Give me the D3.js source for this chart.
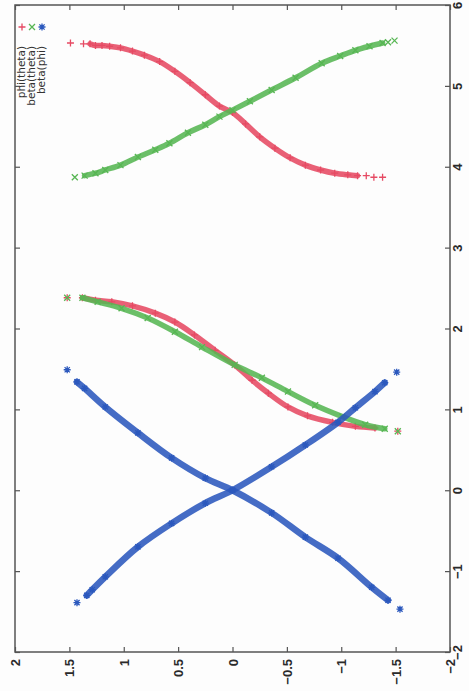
<!DOCTYPE html>
<html><head><meta charset="utf-8">
<script src="https://cdn.jsdelivr.net/npm/d3@7"></script>
<style>body{margin:0;background:#fdfdfd}</style>
</head><body><svg id="c" width="469" height="691"></svg>
<script>
// theta axis (drawn vertically, labels on the right)
const thetaTicks = [-2, -1, 0, 1, 2, 3, 4, 5, 6];
// value axis (drawn horizontally, labels at the bottom)
const valueTicks = [2, 1.5, 1, 0.5, 0, -0.5, -1, -1.5, -2];
const legendLabels = ["phi(theta)", "beta(theta)", "beta(phi)"];

// [theta, value] pairs
const phiThetaLow = [[2.38,1.52],[2.38,1.38],[2.35,1.26],[2.33,1.11],[2.28,0.92],[2.19,0.71],[2.08,0.53],[1.92,0.35],[1.73,0.16],[1.55,-0.02],[1.36,-0.18],[1.20,-0.33],[1.03,-0.51],[0.92,-0.69],[0.84,-0.92],[0.79,-1.13],[0.77,-1.31],[0.73,-1.52]];
const phiThetaHigh = [[5.53,1.49],[5.52,1.37],[5.52,1.31],[5.50,1.26],[5.50,1.20],[5.49,1.13],[5.47,1.03],[5.43,0.92],[5.38,0.81],[5.30,0.67],[5.18,0.53],[5.04,0.39],[4.89,0.25],[4.75,0.12],[4.67,0.00],[4.53,-0.12],[4.37,-0.25],[4.23,-0.39],[4.11,-0.53],[4.02,-0.67],[3.96,-0.81],[3.92,-0.94],[3.90,-1.06],[3.89,-1.15],[3.89,-1.23],[3.87,-1.30],[3.87,-1.38]];
const betaThetaLow = [[2.38,1.52],[2.38,1.38],[2.33,1.24],[2.25,1.02],[2.13,0.78],[1.96,0.53],[1.77,0.28],[1.55,-0.02],[1.39,-0.27],[1.22,-0.51],[1.05,-0.76],[0.91,-1.01],[0.81,-1.22],[0.76,-1.40],[0.73,-1.52]];
const betaThetaHigh = [[3.87,1.45],[3.89,1.36],[3.92,1.26],[3.96,1.17],[4.02,1.03],[4.12,0.87],[4.21,0.71],[4.29,0.58],[4.42,0.41],[4.52,0.25],[4.62,0.12],[4.70,0.00],[4.81,-0.16],[4.95,-0.36],[5.10,-0.58],[5.28,-0.82],[5.37,-0.99],[5.44,-1.13],[5.49,-1.26],[5.53,-1.38],[5.54,-1.43],[5.56,-1.49]];
const betaPhiA = [[1.49,1.52],[1.34,1.43],[1.26,1.36],[1.03,1.17],[0.71,0.87],[0.40,0.56],[0.15,0.25],[0.00,0.00],[-0.28,-0.36],[-0.58,-0.67],[-0.84,-0.97],[-1.20,-1.28],[-1.36,-1.43],[-1.47,-1.54]];
const betaPhiB = [[-1.39,1.43],[-1.30,1.34],[-1.23,1.29],[-1.07,1.17],[-0.70,0.87],[-0.41,0.56],[-0.16,0.25],[0.00,0.00],[0.29,-0.36],[0.56,-0.67],[0.84,-0.97],[1.02,-1.13],[1.22,-1.31],[1.33,-1.40],[1.46,-1.51]];

const L = 15, R = 450, T = 5, B = 652;
const svg = d3.select("#c");
const sx = d3.scaleLinear().domain([2, -2]).range([L, R]);      // value -> screen x
const sy = d3.scaleLinear().domain([-2, 6]).range([B, T]);      // theta -> screen y

const colors = {red: "#e64a63", green: "#57b653", blue: "#2b58bd"};
const shapes = {
  plus: "M-3.5,0H3.5M0,-3.5V3.5",
  cross: "M-3,-3L3,3M-3,3L3,-3",
  star: "M-3.5,0H3.5M0,-3.5V3.5M-2.6,-2.6L2.6,2.6M-2.6,2.6L2.6,-2.6"
};

svg.append("rect").attr("width", 469).attr("height", 691).attr("fill", "#fdfdfd");

const line = d3.line().x(d => sx(d[1])).y(d => sy(d[0])).curve(d3.curveCatmullRom);

function series(data, color, shape, cutStart, cutEnd, w) {
  const g = svg.append("g");
  g.append("path").datum(data.slice(cutStart, data.length - cutEnd))
    .attr("d", line).attr("fill", "none").attr("stroke", color)
    .attr("stroke-width", w).attr("stroke-linecap", "round").attr("opacity", 0.88);
  g.selectAll("path.m").data(data).join("path").attr("class", "m")
    .attr("transform", d => `translate(${sx(d[1])},${sy(d[0])})`)
    .attr("d", shapes[shape]).attr("fill", "none").attr("stroke", color).attr("stroke-width", 1.3);
}

series(phiThetaLow, colors.red, "plus", 1, 1, 5.5);
series(phiThetaHigh, colors.red, "plus", 2, 3, 5.5);
series(betaThetaLow, colors.green, "cross", 1, 1, 5.5);
series(betaThetaHigh, colors.green, "cross", 1, 2, 5.5);
series(betaPhiA, colors.blue, "star", 1, 1, 6.5);
series(betaPhiB, colors.blue, "star", 1, 1, 6.5);

// frame
svg.append("rect").attr("x", L).attr("y", T).attr("width", R - L).attr("height", B - T)
  .attr("fill", "none").attr("stroke", "#555").attr("stroke-width", 1.5);

const font = "'Liberation Sans', Arial, sans-serif";
// bottom axis
const gb = svg.append("g").attr("transform", `translate(0,${B})`)
  .call(d3.axisBottom(sx).tickValues(valueTicks).tickSize(-5).tickSizeOuter(0).tickFormat(d3.format("")));
gb.select(".domain").remove();
gb.selectAll("line").attr("stroke", "#555").attr("stroke-width", 1.2);
gb.selectAll("text").attr("y", null).attr("x", -7).attr("dy", "0.35em")
  .attr("transform", "rotate(-90)").style("text-anchor", "end")
  .style("font-family", font).style("font-size", "13px").style("font-weight", "bold").attr("fill", "#2a2a2a");

// right axis
const gr = svg.append("g").attr("transform", `translate(${R},0)`)
  .call(d3.axisRight(sy).tickValues(thetaTicks).tickSize(-5).tickSizeOuter(0).tickFormat(d3.format("")));
gr.select(".domain").remove();
gr.selectAll("line").attr("stroke", "#555").attr("stroke-width", 1.2);
gr.selectAll("text").attr("x", 0).attr("y", 12).attr("dy", null)
  .attr("transform", "rotate(-90)").style("text-anchor", "middle")
  .style("font-family", font).style("font-size", "13px").style("font-weight", "bold").attr("fill", "#2a2a2a");

// mirror ticks
const gt = svg.append("g").attr("transform", `translate(0,${T})`)
  .call(d3.axisTop(sx).tickValues(valueTicks).tickSize(-5).tickSizeOuter(0).tickFormat(""));
gt.select(".domain").remove();
gt.selectAll("line").attr("stroke", "#555").attr("stroke-width", 1.2);
const gl = svg.append("g").attr("transform", `translate(${L},0)`)
  .call(d3.axisLeft(sy).tickValues(thetaTicks).tickSize(-5).tickSizeOuter(0).tickFormat(""));
gl.select(".domain").remove();
gl.selectAll("line").attr("stroke", "#555").attr("stroke-width", 1.2);

// legend (rotated)
const legColors = [colors.red, colors.green, colors.blue];
const legShapes = ["plus", "cross", "star"];
const legX = [22, 32, 42];
legendLabels.forEach((lab, i) => {
  svg.append("path").attr("transform", `translate(${legX[i]},27)`)
    .attr("d", shapes[legShapes[i]]).attr("fill", "none").attr("stroke", legColors[i]).attr("stroke-width", 1.3);
  svg.append("text").attr("transform", `translate(${legX[i] + 3},46) rotate(-90)`)
    .attr("text-anchor", "end").attr("font-family", "'DejaVu Sans', sans-serif")
    .attr("font-size", 10.5).attr("fill", "#333").text(lab);
});
</script>
</body></html>
